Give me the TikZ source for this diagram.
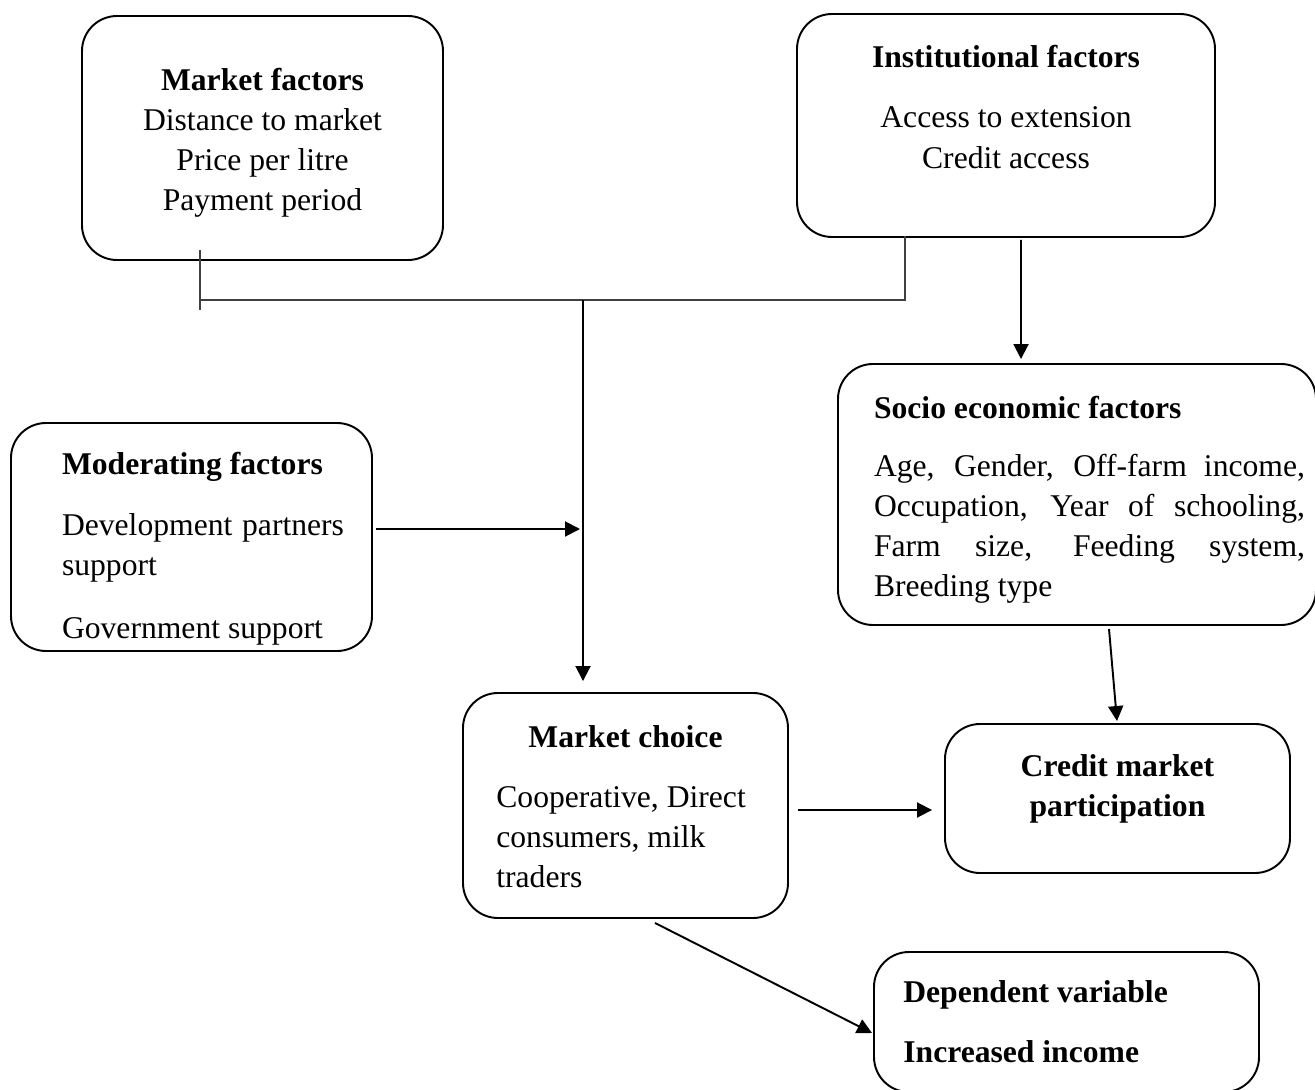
\documentclass[tikz,border=0pt]{standalone}
\usepackage{fontspec}
\setmainfont{Liberation Serif}
\usetikzlibrary{arrows.meta,calc}

\begin{document}
\begin{tikzpicture}[font=\fontsize{18}{22.8}\selectfont,
    box/.style={draw, line width=1.1pt, rounded corners=0.7cm},
    arr/.style={line width=1.1pt, -{Triangle[length=0.3cm,width=0.3cm]}},
    link/.style={line width=0.8pt, draw=black!75}]
    \useasboundingbox (0,0) rectangle (26.3,21.78);

    % boxes
    \node[box, minimum width=7.22cm, minimum height=4.88cm] (market) at (5.25,19.02) {};
    \node[box, minimum width=8.36cm, minimum height=4.46cm] (inst) at (20.12,19.27) {};
    \node[box, minimum width=9.56cm, minimum height=5.22cm] (socio) at (21.54,11.89) {};
    \node[box, minimum width=7.22cm, minimum height=4.56cm] (mod) at (3.83,11.04) {};
    \node[box, minimum width=6.5cm, minimum height=4.5cm] (choice) at (12.51,5.67) {};
    \node[box, minimum width=6.9cm, minimum height=2.98cm] (credit) at (22.35,5.81) {};
    \node[box, minimum width=7.7cm, minimum height=2.8cm] (dep) at (21.33,1.34) {};

    % texts
    \node[align=center] (markettxt) at (5.25,18.93) {\textbf{Market factors}\\Distance to market\\Price per litre\\Payment period};
    \node[align=center] (insttxt) at (20.12,19.64) {\textbf{Institutional factors}\\[0.4cm]Access to extension\\Credit access};
    \node[text width=8.62cm, align=justify, inner sep=0pt] (sociotxt) at (21.79,11.79) {\textbf{Socio economic factors}\\[0.36cm]Age, Gender, Off-farm income,\linebreak Occupation, Year of schooling,\linebreak Farm size, Feeding system,\linebreak Breeding type};
    \node[text width=5.64cm, align=justify, inner sep=0pt] (modtxt) at (4.06,10.8) {\textbf{Moderating factors}\\[0.42cm]Development partners\linebreak support\\[0.46cm]Government support};
    \node (choicetitle) at (12.51,7.04) {\textbf{Market choice}};
    \node[align=left, anchor=west, inner sep=0pt] (choicetxt) at (9.92,5.04) {Cooperative, Direct\\consumers, milk\\traders};
    \node[align=center] (credittxt) at (22.35,6.0) {\textbf{Credit market}\\\textbf{participation}};
    \node[align=left, anchor=west, inner sep=0pt] (deptxt) at (18.06,1.34) {\textbf{Dependent variable}\\[0.4cm]\textbf{Increased income}};

    % connectors
    \coordinate (mtop) at (4.0,16.78);
    \coordinate (mbot) at (4.0,15.58);
    \coordinate (mjoin) at (4.0,15.78);
    \coordinate (split) at (11.66,15.78);
    \coordinate (ijoin) at (18.1,15.78);
    \coordinate (itop) at (18.1,17.06);
    \coordinate (modin) at (11.6,11.2);
    \draw[link] (mtop) -- (mbot);
    \draw[link] (mjoin) -- (ijoin) -- (itop);
    \draw[arr] (split) -- ([yshift=0.22cm]choice.north -| split);
    \draw[arr] ([xshift=0.06cm]mod.east |- modin) -- (modin);
    \draw[arr] ($(inst.south)+(0.3,-0.04)$) -- ($(socio.north)+(-1.12,0.08)$);
    \draw[arr] ($(socio.south)+(0.64,-0.06)$) -- ($(credit.north)+(-0.01,0.04)$);
    \draw[arr] ($(choice.east)+(0.18,-0.09)$) -- ($(credit.west)+(-0.24,-0.23)$);
    \draw[arr] ($(choice.south)+(0.59,-0.08)$) -- ($(dep.west)+(-0.02,-0.22)$);
\end{tikzpicture}
\end{document}
